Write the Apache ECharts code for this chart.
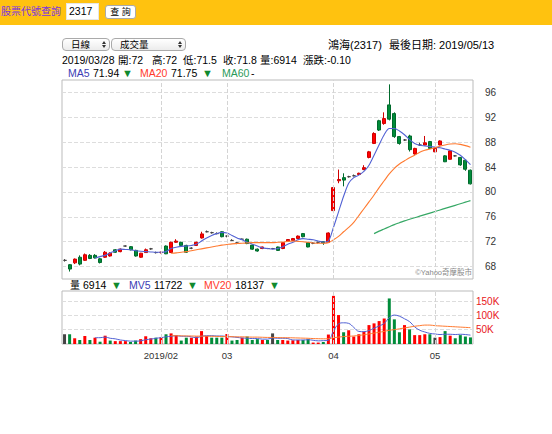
<!DOCTYPE html>
<html>
<head>
<meta charset="utf-8">
<title>鴻海(2317)</title>
<script src="https://cdn.jsdelivr.net/npm/echarts@6.0.0/dist/echarts.min.js"></script>
<style>
html,body{margin:0;padding:0;background:#fff;}
body{width:552px;height:434px;position:relative;overflow:hidden;font-family:"Liberation Sans","Noto Sans CJK TC",sans-serif;}
#chart{position:absolute;left:0;top:0;width:552px;height:434px;}
#topbar{position:absolute;left:0;top:0;width:552px;height:25px;background:#ffc20f;}
#qlabel{position:absolute;left:1px;top:5px;font-size:10px;line-height:13px;color:#7b34e0;}
#code{position:absolute;left:66px;top:3px;width:33px;height:17px;background:#fff;border:1px solid #e6e6e6;box-sizing:border-box;font-size:10.5px;line-height:15px;padding-left:2px;color:#000;}
#btn{position:absolute;left:105px;top:5px;width:31px;height:14px;background:#fff;border:1px solid #aaa;border-radius:3px;box-sizing:border-box;font-size:9px;line-height:12px;text-align:center;color:#000;}
.sel{position:absolute;top:38px;height:13px;border:1px solid #aaa;border-radius:4px;background:linear-gradient(#fff,#ececec);box-sizing:border-box;font-size:9.5px;line-height:11px;color:#000;}
.sel .t{position:absolute;left:8px;top:0;}
.arr{position:absolute;width:0;height:0;border-left:2.5px solid transparent;border-right:2.5px solid transparent;}
.up{top:2px;border-bottom:3px solid #333;}
.dn{top:6px;border-top:3px solid #333;}
</style>
</head>
<body>
<div id="chart"></div>
<div id="topbar">
  <div id="qlabel">股票代號查詢</div>
  <div id="code">2317</div>
  <div id="btn">查 詢</div>
</div>
<div class="sel" style="left:62px;width:48px;"><span class="t">日線</span><span class="arr up" style="left:39px"></span><span class="arr dn" style="left:39px"></span></div>
<div class="sel" style="left:111px;width:75px;"><span class="t">成交量</span><span class="arr up" style="left:66px"></span><span class="arr dn" style="left:66px"></span></div>
<script>
// ---------------- data ----------------
const dates = [
 '2019/01/04','2019/01/07','2019/01/08','2019/01/09','2019/01/10','2019/01/11','2019/01/14','2019/01/15','2019/01/16','2019/01/17',
 '2019/01/18','2019/01/21','2019/01/22','2019/01/23','2019/01/24','2019/01/25','2019/01/28','2019/01/29','2019/01/30',
 '2019/02/11','2019/02/12','2019/02/13','2019/02/14','2019/02/15','2019/02/18','2019/02/19','2019/02/20','2019/02/21','2019/02/22',
 '2019/02/25','2019/02/26','2019/02/27',
 '2019/03/01','2019/03/04','2019/03/05','2019/03/06','2019/03/07','2019/03/08','2019/03/11','2019/03/12','2019/03/13','2019/03/14',
 '2019/03/15','2019/03/18','2019/03/19','2019/03/20','2019/03/21','2019/03/22','2019/03/25','2019/03/26','2019/03/27','2019/03/28',
 '2019/03/29',
 '2019/04/01','2019/04/02','2019/04/03','2019/04/08','2019/04/09','2019/04/10','2019/04/11','2019/04/12','2019/04/15','2019/04/16',
 '2019/04/17','2019/04/18','2019/04/19','2019/04/22','2019/04/23','2019/04/24','2019/04/25','2019/04/26','2019/04/29','2019/04/30',
 '2019/05/02','2019/05/03','2019/05/06','2019/05/07','2019/05/08','2019/05/09','2019/05/10','2019/05/13'
];
const opens = [
 69.0,68.3,68.6,69.5,69.0,69.8,69.8,69.25,69.5,69.7,
 70.7,70.4,71.3,71.2,70.6,69.5,70.25,70.85,70.25,70.25,
 71.3,70.25,71.9,71.9,71.4,70.95,71.4,72.6,73.6,73.45,
 73.3,73.6,72.9,72.2,71.8,72.4,72.4,71.45,70.8,70.9,
 70.9,70.9,71.15,70.9,72.1,72.2,72.5,73.3,71.85,71.75,
 71.9,72.0,71.9,77.0,81.8,82.3,82.45,82.6,82.8,83.6,
 85.55,87.8,91.45,91.0,94.0,92.6,88.9,88.35,89.0,86.1,
 87.55,87.55,88.1,86.45,87.55,85.8,85.25,85.8,85.55,85.1,
 83.5
];
const closes = [
 69.0,67.6,69.2,68.4,69.9,69.3,69.4,68.65,70.3,70.15,
 70.3,70.8,71.3,70.7,69.7,70.15,70.7,70.85,70.25,70.3,
 70.05,71.9,72.1,71.4,70.3,70.95,71.9,73.25,73.6,73.45,
 73.3,72.8,72.9,72.2,71.8,72.4,71.7,70.8,70.5,71.15,
 70.9,70.9,70.6,71.85,72.35,72.5,72.9,72.8,71.15,71.75,
 71.9,71.8,73.4,80.7,82.0,81.9,82.45,82.6,83.0,83.9,
 86.45,89.4,89.95,91.8,91.7,88.9,87.8,88.35,86.8,87.0,
 87.55,87.9,87.0,87.0,88.2,84.85,86.6,85.8,84.35,83.65,
 81.3
];
const lows = [
 68.8,67.2,68.4,68.2,68.9,69.2,69.3,68.5,69.4,69.6,
 70.2,70.3,71.2,70.6,69.6,69.4,70.2,70.7,70.1,70.1,
 70.0,70.2,71.8,71.3,70.2,70.8,71.3,72.5,73.5,73.3,
 73.2,72.7,72.7,72.1,71.6,72.3,71.6,70.7,70.4,70.8,
 70.8,70.8,70.5,70.8,72.0,72.1,72.4,72.7,71.1,71.6,
 71.7,71.5,71.8,76.6,81.4,80.9,82.3,82.5,82.7,83.5,
 85.4,87.7,89.8,90.8,91.5,88.7,87.6,88.2,86.5,86.0,
 87.4,87.5,86.9,86.4,87.5,84.8,85.2,85.7,84.2,83.4,
 81.2
];
const highs = [
 69.2,68.4,69.3,69.8,70.1,70.0,70.0,69.4,70.5,70.3,
 70.8,70.9,71.4,71.3,70.7,70.2,70.9,71.0,70.4,70.4,
 71.4,72.0,72.4,72.0,71.5,71.1,72.0,73.6,73.8,73.6,
 73.5,73.7,73.0,72.4,71.9,72.5,72.5,71.5,70.9,71.2,
 71.0,71.0,71.2,71.9,72.4,72.6,73.0,73.4,71.9,71.9,
 72.0,72.0,73.5,80.7,83.6,83.0,82.6,82.8,83.1,84.3,
 86.6,89.6,91.6,92.8,97.3,92.8,89.0,88.5,89.2,87.1,
 87.9,89.0,88.2,87.1,88.3,85.9,86.7,85.9,85.6,85.2,
 83.6
];
// volume in thousands of lots
const volumesK = [
 34,34,20,14,28,14,22,8,29,12,
 10,10,10,7,12,17,27,20,22,23,
 34,37,31,12,22,22,26,45,28,22,
 22,22,35,12,14,22,26,14,17,14,
 14,37,14,14,12,13,14,14,17,5,
 5,6.914,33,168,101,41,48,26,34,43,
 66,72,80,89,159,86,41,66,51,31,
 31,34,34,22,24,45,29,20,31,26,
 23
];
const ma5 = [
 null,null,null,null,null,null,69.35,69.6,69.8,70.2,
 70.5,70.8,70.75,70.7,70.55,70.45,70.4,70.35,70.3,70.3,
 70.4,70.9,71.1,71.25,71.3,71.4,71.6,72.1,72.6,73.0,
 73.3,73.5,73.4,73.0,72.6,72.3,71.9,71.6,71.3,71.0,
 70.9,70.8,70.9,71.2,71.6,71.9,72.3,72.5,72.4,72.3,
 72.1,71.94,72.1,74.3,76.8,79.3,81.4,82.3,82.7,83.3,
 84.3,85.9,87.6,89.2,90.2,90.2,89.8,89.2,88.4,87.8,
 87.5,87.4,87.3,87.2,87.1,86.9,86.7,86.4,85.9,85.2,
 84.4
];
const ma20 = [
 null,null,null,null,null,null,null,null,null,null,
 null,null,null,null,null,null,null,null,null,null,
 null,70.15,70.2,70.3,70.4,70.55,70.7,70.85,71.0,71.15,
 71.3,71.45,71.55,71.65,71.7,71.75,71.8,71.85,71.85,71.85,
 71.85,71.85,71.9,71.95,72.05,72.1,72.05,72.0,71.9,71.8,
 71.75,71.75,71.85,72.3,72.85,73.6,74.3,75.1,76.2,77.3,
 78.4,79.5,80.7,81.8,82.9,83.8,84.5,85.0,85.5,85.9,
 86.4,86.7,86.9,87.1,87.35,87.55,87.7,87.75,87.65,87.45,
 87.2
];
const ma60 = [
 null,null,null,null,null,null,null,null,null,null,
 null,null,null,null,null,null,null,null,null,null,
 null,null,null,null,null,null,null,null,null,null,
 null,null,null,null,null,null,null,null,null,null,
 null,null,null,null,null,null,null,null,null,null,
 null,null,null,null,null,null,null,null,null,null,
 null,73.3,73.7,74.05,74.4,74.75,75.05,75.35,75.6,75.85,
 76.1,76.35,76.6,76.85,77.1,77.35,77.6,77.85,78.1,78.35,
 78.6
];
const mv5K = [
 null,null,null,null,null,null,22,22,24,20,
 18,14,12,10,10,11,15,17,20,22,
 25,27,29,27,27,25,22,27,29,29,
 28,28,26,25,23,21,20,19,19,17,
 17,21,20,20,19,14,14,14,15,13,
 11,11.722,13,45,70,74,72,58,44,43,
 47,55,63,72,92,101,97,88,78,60,
 48,42,37,35,33,34,34,33,34,33,
 31
];
const mv20K = [
 null,null,null,null,null,null,null,null,null,null,
 null,null,null,null,null,null,null,null,null,null,
 null,29,29,28.5,28,28,27.5,27.5,27,27,
 26.5,26,26,25.5,25,25,24.5,24,24,23.5,
 23,23,22.5,22,22,21.5,21,20.5,20,19,
 18.5,18.137,18.5,22,24,26,27,28,30,32,
 35,38,41,44,48,50,53,56,59,62,
 64,66,66,64,63,62,61,60,59,58,
 57
];
const priceTicks = [68, 72, 76, 80, 84, 88, 92, 96];
const volTicksK = [50, 100, 150];

// ---------------- styling ----------------
const UP = '#ff0000', DOWN = '#008c3a', FLAT = '#444';
const FONT = '"Liberation Sans","Noto Sans CJK TC",sans-serif';
const C_MA5 = '#5262d4', C_MA20 = '#ff7a30', C_MA60 = '#36a865';

const monthStarts = [];
dates.forEach((d, i) => { if (i > 0 && d.slice(5, 7) !== dates[i - 1].slice(5, 7)) monthStarts.push(i); });

const candleData = dates.map((d, i) => {
  const item = { value: [opens[i], closes[i], lows[i], highs[i]] };
  if (opens[i] === closes[i]) {
    item.itemStyle = { color: FLAT, color0: FLAT, borderColor: FLAT, borderColor0: FLAT, borderColorDoji: FLAT };
  }
  return item;
});
const volData = volumesK.map((v, i) => {
  let c = FLAT;
  if (i > 0) c = closes[i] > closes[i - 1] ? UP : (closes[i] < closes[i - 1] ? DOWN : FLAT);
  return { value: v, itemStyle: { color: c } };
});

function txt(x, y, text, fill, size, align) {
  return { type: 'text', x: x, y: y, silent: true, z: 100,
    style: { text: text, fill: fill || '#000', font: (size || 10.5) + 'px ' + FONT,
      align: align || 'left', verticalAlign: 'middle' } };
}

const chart = echarts.init(document.getElementById('chart'), null, { renderer: 'svg' });
chart.setOption({
  animation: false,
  backgroundColor: 'transparent',
  textStyle: { fontFamily: FONT },
  grid: [
    { left: 62, top: 80, width: 411, height: 199, show: true, borderColor: '#bbb', borderWidth: 1, containLabel: false },
    { left: 62, top: 291, width: 411, height: 53, show: true, borderColor: '#bbb', borderWidth: 1, containLabel: false }
  ],
  xAxis: [
    { type: 'category', gridIndex: 0, data: dates, boundaryGap: true,
      axisLine: { show: false }, axisTick: { show: false }, axisLabel: { show: false }, splitLine: { show: false } },
    { type: 'category', gridIndex: 1, data: dates, boundaryGap: true,
      axisLine: { show: false }, axisTick: { show: false }, splitLine: { show: false },
      axisLabel: { show: true, color: '#333', fontSize: 9.5, margin: 7,
        interval: (i) => monthStarts.indexOf(i) >= 0,
        formatter: (v, i) => (i === monthStarts[0] ? v.slice(0, 7) : v.slice(5, 7)) } }
  ],
  yAxis: [
    { type: 'value', gridIndex: 0, position: 'right', min: 66, max: 98,
      axisLine: { show: false }, axisTick: { show: false, customValues: priceTicks },
      axisLabel: { customValues: priceTicks, color: '#333', fontSize: 10, margin: 12 },
      splitLine: { show: true, lineStyle: { color: '#ddd', type: 'dashed', width: 1 } } },
    { type: 'value', gridIndex: 1, position: 'right', min: 0, max: 185,
      axisLine: { show: false }, axisTick: { show: false, customValues: volTicksK },
      axisLabel: { customValues: volTicksK, formatter: '{value}K', color: '#e8161b', fontSize: 10, margin: 3 },
      splitLine: { show: true, lineStyle: { color: '#ddd', type: 'dashed', width: 1 } } }
  ],
  series: [
    { type: 'line', xAxisIndex: 0, yAxisIndex: 0, data: [], z: 1, silent: true,
      markLine: { silent: true, symbol: ['none', 'none'], label: { show: false }, animation: false,
        lineStyle: { color: '#d4d4d4', type: 'dashed', width: 1 },
        data: monthStarts.map(i => ({ xAxis: dates[i] })) } },
    { type: 'candlestick', name: 'K', xAxisIndex: 0, yAxisIndex: 0, data: candleData, barWidth: 3.5, z: 3,
      itemStyle: { color: UP, color0: DOWN, borderColor: '#d00000', borderColor0: '#006a2c', borderColorDoji: FLAT, borderWidth: 1 } },
    { type: 'line', name: 'MA5', xAxisIndex: 0, yAxisIndex: 0, data: ma5, symbol: 'none', smooth: 0.3, z: 4,
      lineStyle: { color: C_MA5, width: 1.1 }, itemStyle: { color: C_MA5 } },
    { type: 'line', name: 'MA20', xAxisIndex: 0, yAxisIndex: 0, data: ma20, symbol: 'none', smooth: 0.3, z: 4,
      lineStyle: { color: C_MA20, width: 1.1 }, itemStyle: { color: C_MA20 } },
    { type: 'line', name: 'MA60', xAxisIndex: 0, yAxisIndex: 0, data: ma60, symbol: 'none', smooth: 0.3, z: 4,
      lineStyle: { color: C_MA60, width: 1.2 }, itemStyle: { color: C_MA60 } },
    { type: 'line', xAxisIndex: 1, yAxisIndex: 1, data: [], z: 1, silent: true,
      markLine: { silent: true, symbol: ['none', 'none'], label: { show: false }, animation: false,
        lineStyle: { color: '#d4d4d4', type: 'dashed', width: 1 },
        data: monthStarts.map(i => ({ xAxis: dates[i] })) } },
    { type: 'bar', name: 'VOL', xAxisIndex: 1, yAxisIndex: 1, data: volData, barWidth: 3, z: 3 },
    { type: 'line', name: 'MV5', xAxisIndex: 1, yAxisIndex: 1, data: mv5K, symbol: 'none', smooth: 0.4, z: 4,
      lineStyle: { color: C_MA5, width: 1 } },
    { type: 'line', name: 'MV20', xAxisIndex: 1, yAxisIndex: 1, data: mv20K, symbol: 'none', smooth: 0.4, z: 4,
      lineStyle: { color: C_MA20, width: 1 } }
  ],
  graphic: [
    txt(328, 45, '鴻海(2317)', '#000', 11),
    txt(389, 45, '最後日期: 2019/05/13', '#000', 11),
    txt(62, 60, '2019/03/28', '#000', 10.5),
    txt(118, 60, '開:72', '#000', 10.5),
    txt(152, 60, '高:72', '#000', 10.5),
    txt(183, 60, '低:71.5', '#000', 10.5),
    txt(223, 60, '收:71.8', '#000', 10.5),
    txt(260, 60, '量:6914', '#000', 10.5),
    txt(303, 60, '漲跌:-0.10', '#000', 10.5),
    txt(68, 73, 'MA5', '#3c3cb4', 10.5),
    txt(93, 73, '71.94', '#000', 10.5),
    txt(122, 73, '▼', '#118a2e', 11),
    txt(140, 73, 'MA20', '#ff3a2a', 10.5),
    txt(171, 73, '71.75', '#000', 10.5),
    txt(202, 73, '▼', '#118a2e', 11),
    txt(222, 73, 'MA60', '#2a9a5a', 10.5),
    txt(251, 73, '-', '#000', 10.5),
    txt(70, 285, '量', '#000', 10),
    txt(83, 285, '6914', '#000', 10.5),
    txt(111, 285, '▼', '#118a2e', 11),
    txt(129, 285, 'MV5', '#3c3cb4', 10.5),
    txt(154, 285, '11722', '#000', 10.5),
    txt(187, 285, '▼', '#118a2e', 11),
    txt(204, 285, 'MV20', '#ff3a2a', 10.5),
    txt(235, 285, '18137', '#000', 10.5),
    txt(269, 285, '▼', '#118a2e', 11),
    txt(472, 272.5, '©Yahoo奇摩股市', '#888', 7.5, 'right')
  ]
});
</script>
</body>
</html>
